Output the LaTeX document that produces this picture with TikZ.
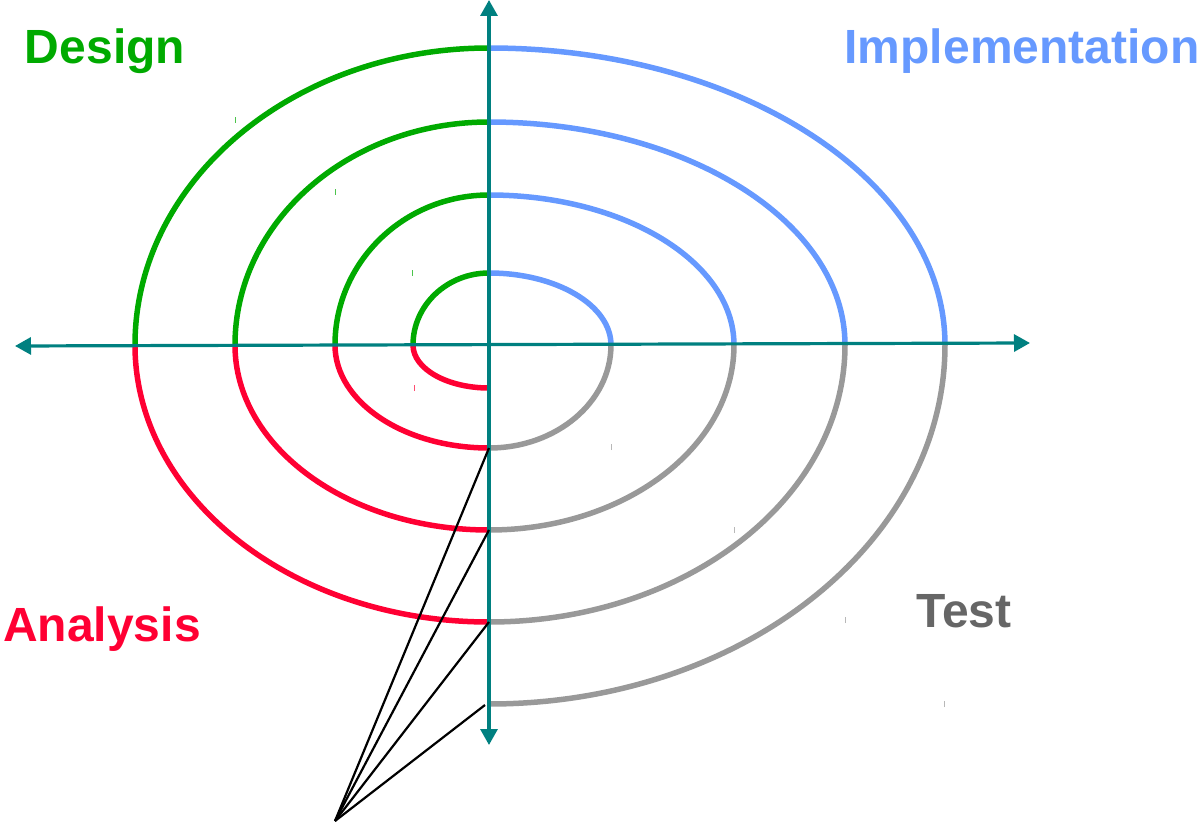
\documentclass[tikz,border=0pt]{standalone}
\usepackage{fontspec}
\setmainfont{Liberation Sans}
\usetikzlibrary{arrows.meta}
\definecolor{desgreen}{RGB}{0,170,0}
\definecolor{impblue}{RGB}{102,153,255}
\definecolor{testgray}{RGB}{153,153,153}
\definecolor{anared}{RGB}{255,0,51}
\definecolor{axisteal}{RGB}{0,128,128}
\definecolor{labelgray}{RGB}{102,102,102}
\tikzset{
  axis/.style={draw=axisteal, line width=3.2pt, {Triangle[length=16pt,width=17pt]}-{Triangle[length=16pt,width=17pt]}},
  phase/.style={line width=5.5pt},
  pointer/.style={draw=black, line width=2.2pt},
  phaselabel/.style={font=\fontsize{48}{56}\selectfont\bfseries, inner sep=0pt},
}
\begin{document}
\begin{tikzpicture}[x=1pt, y=1pt]
    \useasboundingbox (-489,-477) rectangle (713,345);
    % spiral, one ring per pass
    \foreach \a/\b/\u/\p/\q in {76/122/72/43/103, 154/245/150/103/185, 254/356/223/185/277, 354/456/297/277/359}{
        \draw[phase,anared] (0,-\p) arc[start angle=270, end angle=180, x radius=\a pt, y radius=\p pt];
        \draw[phase,desgreen] (-\a,0) arc[start angle=180, end angle=90, x radius=\a pt, y radius=\u pt];
        \draw[phase,impblue] (0,\u) arc[start angle=90, end angle=0, x radius=\b pt, y radius=\u pt];
        \draw[phase,testgray] (\b,0) arc[start angle=0, end angle=-90, x radius=\b pt, y radius=\q pt];
    }
    % small marks
    \foreach \x/\y/\c in {-253/225/desgreen, -153/153/desgreen, -76/72/desgreen, -74/-43/anared,
                          122/-102/testgray, 245/-185/testgray, 356/-275/testgray, 455/-359/testgray}
        \draw[\c!70, line width=1pt] (\x,\y-3) -- (\x,\y+3);
    % axes
    \coordinate (west) at (-474,-1);
    \coordinate (east) at (541,2);
    \coordinate (north) at (0,345);
    \coordinate (south) at (0,-400);
    \draw[axis] (west) -- (east);
    \draw[axis] (north) -- (south);
    % lines to the crossings
    \coordinate (apex) at (-154,-476);
    \coordinate (t1) at (0,-103);
    \coordinate (t2) at (0,-185);
    \coordinate (t3) at (0,-277);
    \coordinate (t4) at (-4,-360);
    \foreach \t in {t1,t2,t3,t4} \draw[pointer] (apex) -- (\t);
    % phase names
    \node[phaselabel, text=desgreen] (design) at (-384,294) {Design};
    \node[phaselabel, text=impblue] (impl) at (533,294) {Implementation};
    \node[phaselabel, text=anared] (analysis) at (-387,-284) {Analysis};
    \node[phaselabel, text=labelgray] (test) at (475,-266) {Test};
\end{tikzpicture}
\end{document}
